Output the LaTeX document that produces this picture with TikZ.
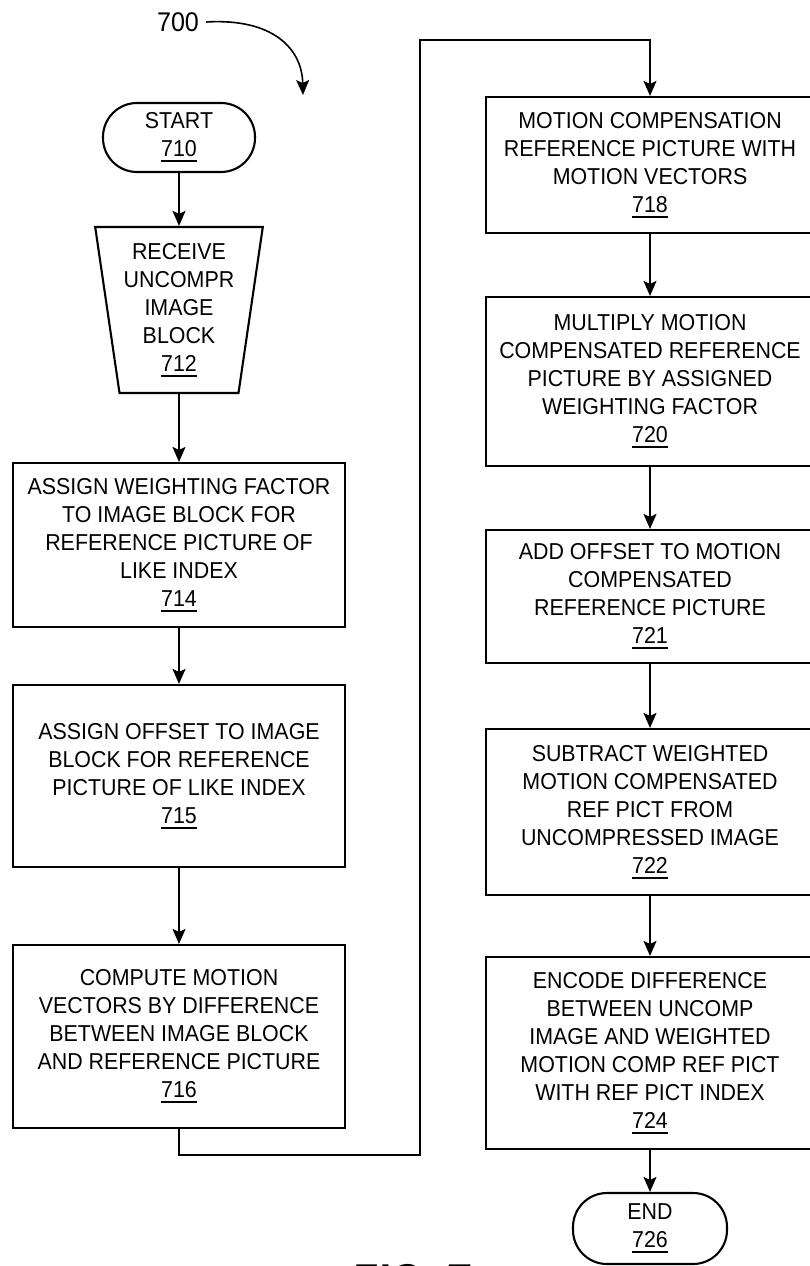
\documentclass[tikz,border=0pt]{standalone}
\usepackage{fontspec}
\setmainfont{Liberation Sans}[FakeStretch=0.93]
\usetikzlibrary{arrows.meta,shapes.geometric}
\newcommand\unum[1]{\vtop{\hbox{#1}\kern3.5pt\hrule height 2pt}}
\begin{document}
\begin{tikzpicture}[x=1pt,y=-1pt,
  txt/.style={font=\fontsize{23}{28}\selectfont, align=center, inner sep=0pt},
  box/.style={txt, draw, line width=2.1pt, minimum width=332pt},
  rbox/.style={txt, draw, line width=2.1pt, minimum width=328pt},
  term/.style={txt, draw, line width=2.1pt, rounded corners=34pt, minimum width=152pt, minimum height=69pt},
  arr/.style={line width=1.6pt, -{Stealth[length=15pt,width=13pt,inset=3pt]}}]
\useasboundingbox (0,0) rectangle (810,1266);
% left column
\node[term] (n710) at (179,137.5) {START\\\unum{710}};
\node[txt, draw, line width=2.1pt, trapezium, shape border rotate=180,
      trapezium left angle=80.4, trapezium right angle=80.4, trapezium stretches=true,
      minimum width=168pt, minimum height=166pt] (n712) at (179,310)
      {RECEIVE\\UNCOMPR\\IMAGE\\BLOCK\\\unum{712}};
\node[box, minimum height=164pt] (n714) at (179,545)
      {ASSIGN WEIGHTING FACTOR\\TO IMAGE BLOCK FOR\\REFERENCE PICTURE OF\\LIKE INDEX\\\unum{714}};
\node[box, minimum height=182pt] (n715) at (179,776)
      {ASSIGN OFFSET TO IMAGE\\BLOCK FOR REFERENCE\\PICTURE OF LIKE INDEX\\\unum{715}};
\node[box, minimum height=183pt] (n716) at (179,1036.5)
      {COMPUTE MOTION\\VECTORS BY DIFFERENCE\\BETWEEN IMAGE BLOCK\\AND REFERENCE PICTURE\\\unum{716}};
% right column
\node[rbox, minimum height=136pt] (n718) at (650,165)
      {MOTION COMPENSATION\\REFERENCE PICTURE WITH\\MOTION VECTORS\\\unum{718}};
\node[rbox, minimum height=169pt] (n720) at (650,381.5)
      {MULTIPLY MOTION\\COMPENSATED REFERENCE\\PICTURE BY ASSIGNED\\WEIGHTING FACTOR\\\unum{720}};
\node[rbox, minimum height=133pt] (n721) at (650,596.5)
      {ADD OFFSET TO MOTION\\COMPENSATED\\REFERENCE PICTURE\\\unum{721}};
\node[rbox, minimum height=166pt] (n722) at (650,812)
      {SUBTRACT WEIGHTED\\MOTION COMPENSATED\\REF PICT FROM\\UNCOMPRESSED IMAGE\\\unum{722}};
\node[rbox, minimum height=192pt] (n724) at (650,1053)
      {ENCODE DIFFERENCE\\BETWEEN UNCOMP\\IMAGE AND WEIGHTED\\MOTION COMP REF PICT\\WITH REF PICT INDEX\\\unum{724}};
\node[term, minimum width=154pt, minimum height=71pt] (n726) at (650,1228.5) {END\\\unum{726}};
% label 700
\node[txt, font=\fontsize{27}{28}\selectfont] (l700) at (178,22) {700};
\coordinate (t700) at (303,95);
\draw[arr] ([xshift=7pt]l700.east) .. controls (272,18) and (302,48) .. (t700);
% connectors
\draw[arr] (n710) -- (n712);
\draw[arr] (n712) -- (n714);
\draw[arr] (n714) -- (n715);
\draw[arr] (n715) -- (n716);
\draw[arr] (n716.south) |- (420,1155) -- (420,40) -| (n718.north);
\draw[arr] (n718) -- (n720);
\draw[arr] (n720) -- (n721);
\draw[arr] (n721) -- (n722);
\draw[arr] (n722) -- (n724);
\draw[arr] (n724) -- (n726);
% caption
\node[inner sep=0pt, anchor=north west, font=\fontsize{46}{46}\selectfont\bfseries\itshape] (fig) at (350,1264) {FIG. 7};
\end{tikzpicture}
\end{document}
